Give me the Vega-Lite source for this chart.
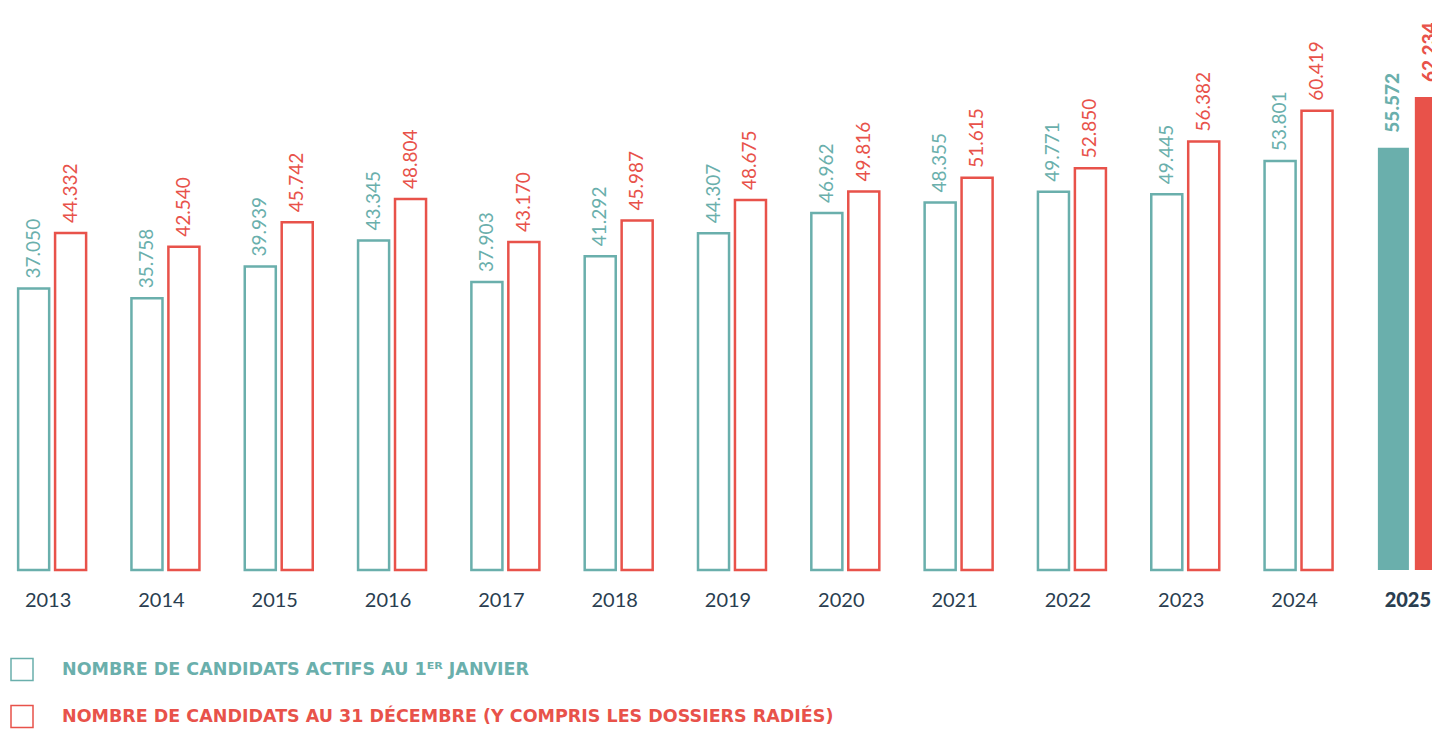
{
  "$schema": "https://vega.github.io/schema/vega-lite/v6.json",
  "padding": 0,
  "background": "white",
  "spacing": 76,
  "bounds": "flush",
  "config": {
    "view": {"stroke": null},
    "font": "Lato",
    "locale": {"number": {"decimal": ",", "thousands": ".", "grouping": [3], "currency": ["", " €"]}}
  },
  "datasets": {
    "candidats": [
      {"year": "2013", "serie": "actifs", "value": 37050}, {"year": "2013", "serie": "decembre", "value": 44332},
      {"year": "2014", "serie": "actifs", "value": 35758}, {"year": "2014", "serie": "decembre", "value": 42540},
      {"year": "2015", "serie": "actifs", "value": 39939}, {"year": "2015", "serie": "decembre", "value": 45742},
      {"year": "2016", "serie": "actifs", "value": 43345}, {"year": "2016", "serie": "decembre", "value": 48804},
      {"year": "2017", "serie": "actifs", "value": 37903}, {"year": "2017", "serie": "decembre", "value": 43170},
      {"year": "2018", "serie": "actifs", "value": 41292}, {"year": "2018", "serie": "decembre", "value": 45987},
      {"year": "2019", "serie": "actifs", "value": 44307}, {"year": "2019", "serie": "decembre", "value": 48675},
      {"year": "2020", "serie": "actifs", "value": 46962}, {"year": "2020", "serie": "decembre", "value": 49816},
      {"year": "2021", "serie": "actifs", "value": 48355}, {"year": "2021", "serie": "decembre", "value": 51615},
      {"year": "2022", "serie": "actifs", "value": 49771}, {"year": "2022", "serie": "decembre", "value": 52850},
      {"year": "2023", "serie": "actifs", "value": 49445}, {"year": "2023", "serie": "decembre", "value": 56382},
      {"year": "2024", "serie": "actifs", "value": 53801}, {"year": "2024", "serie": "decembre", "value": 60419},
      {"year": "2025", "serie": "actifs", "value": 55572}, {"year": "2025", "serie": "decembre", "value": 62234}
    ],
    "legende": [
      {"serie": "actifs", "label": "NOMBRE DE CANDIDATS ACTIFS AU 1ᴱᴿ JANVIER"},
      {"serie": "decembre", "label": "NOMBRE DE CANDIDATS AU 31 DÉCEMBRE (Y COMPRIS LES DOSSIERS RADIÉS)"}
    ]
  },
  "vconcat": [
    {
      "width": 1464,
      "height": 570,
      "data": {"name": "candidats"},
      "encoding": {
        "x": {
          "field": "year", "type": "nominal", "title": null,
          "scale": {"paddingInner": 0.4, "paddingOuter": 0.16},
          "axis": {
            "domain": false, "ticks": false, "labelAngle": 0, "labelPadding": 20, "labelOffset": -4,
            "labelFontSize": 20, "labelColor": "#2a3e50",
            "labelFontWeight": {"condition": {"test": "datum.value == '2025'", "value": 900}, "value": 400}
          }
        },
        "xOffset": {"field": "serie", "type": "nominal", "scale": {"paddingInner": 0.16, "paddingOuter": 0}},
        "y": {"field": "value", "type": "quantitative", "scale": {"domain": [0, 75000]}, "axis": null},
        "color": {
          "field": "serie", "type": "nominal",
          "scale": {"domain": ["actifs", "decembre"], "range": ["#6aafac", "#e8524a"]},
          "legend": null
        }
      },
      "layer": [
        {
          "transform": [{"filter": "datum.year != '2025'"}],
          "mark": {"type": "bar", "filled": false, "strokeWidth": 2.5}
        },
        {
          "transform": [{"filter": "datum.year == '2025'"}],
          "mark": {"type": "bar"}
        },
        {
          "transform": [{"filter": "datum.year != '2025'"}],
          "mark": {"type": "text", "angle": -90, "align": "left", "baseline": "middle", "dx": 10, "fontSize": 19},
          "encoding": {"text": {"field": "value", "type": "quantitative", "format": ",d"}}
        },
        {
          "transform": [{"filter": "datum.year == '2025'"}],
          "mark": {"type": "text", "angle": -90, "align": "left", "baseline": "middle", "dx": 15, "fontSize": 19, "fontWeight": 900, "clip": true},
          "encoding": {"text": {"field": "value", "type": "quantitative", "format": ",d"}}
        }
      ]
    },
    {
      "width": 44,
      "height": 94,
      "data": {"name": "legende"},
      "encoding": {
        "y": {"field": "serie", "type": "nominal", "axis": null, "scale": {"paddingInner": 0, "paddingOuter": 0}},
        "color": {"field": "serie", "type": "nominal", "legend": null}
      },
      "layer": [
        {
          "mark": {"type": "point", "shape": "square", "size": 484, "filled": false, "strokeWidth": 1.5, "opacity": 1}
        },
        {
          "mark": {"type": "text", "align": "left", "baseline": "middle", "dx": 40, "font": "DejaVu Sans", "fontSize": 17.5, "fontWeight": "bold"},
          "encoding": {"text": {"field": "label"}}
        }
      ]
    }
  ]
}
